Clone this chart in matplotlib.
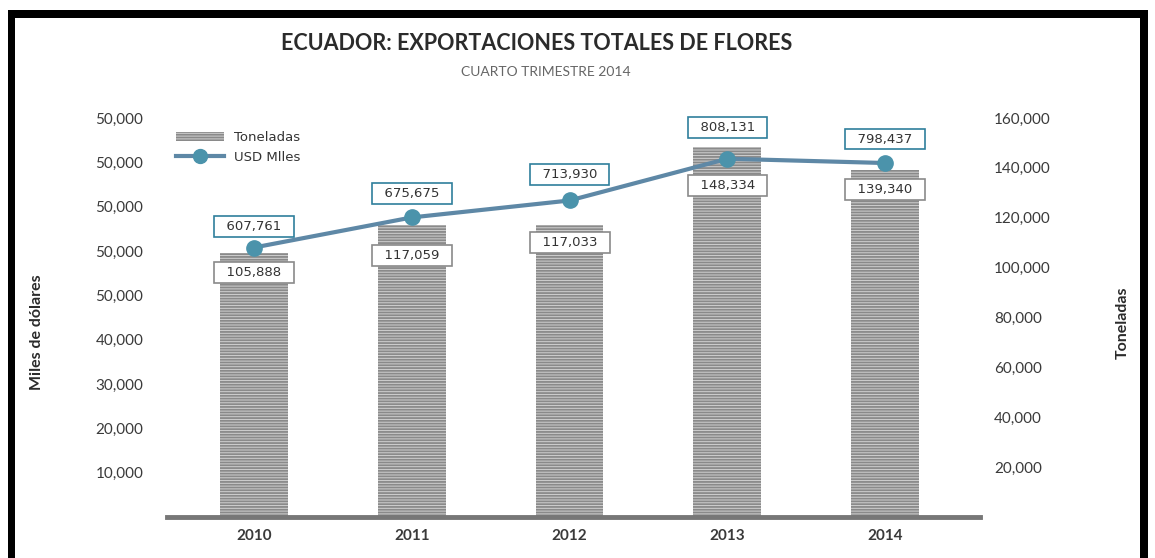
import matplotlib.pyplot as plt
from matplotlib.patches import Rectangle
from matplotlib.lines import Line2D
import numpy as np

# Data
years = ['2010', '2011', '2012', '2013', '2014']
toneladas = [105888, 117059, 117033, 148334, 139340]
usd_miles = [607761, 675675, 713930, 808131, 798437]

# left axis labels as printed in the original (repeated 50,000)
left_ticks = [100000, 200000, 300000, 400000, 500000, 600000, 700000, 800000, 900000]
left_labels = ['10,000', '20,000', '30,000', '40,000', '50,000',
               '50,000', '50,000', '50,000', '50,000']
right_ticks = [20000, 40000, 60000, 80000, 100000, 120000, 140000, 160000]
right_labels = ['20,000', '40,000', '60,000', '80,000', '100,000',
                '120,000', '140,000', '160,000']

# label box offsets in pixels (as placed in the original)
usd_offsets = [21, 24, 26, 31, 24]
ton_offsets = [-20, -30, -17, -38, -20]

W, H = 1155, 558
plt.rcParams['hatch.linewidth'] = 1.3
fig = plt.figure(figsize=(W / 100, H / 100), dpi=100)
fig.patch.set_facecolor('white')

tick_font = ['Lato', 'DejaVu Sans']
txt_col = '#3a3a3a'
bar_face = '#d0d0d0'
bar_hatch = '#8a8a8a'

# Axes for bars (right scale)
ax = fig.add_axes([167 / W, 1 - 517 / H, (980 - 167) / W, (517 - 118) / H])
x = np.arange(len(years))
ax.bar(x, toneladas, width=0.43, facecolor=bar_face, edgecolor=bar_hatch,
       linewidth=0, hatch='------')
ax.set_xlim(-0.55, 4.6)
ax.set_ylim(0, 160000)
ax.set_xticks(x)
ax.set_xticklabels(years, fontweight='bold')
for s in ['top', 'left', 'right']:
    ax.spines[s].set_visible(False)
ax.spines['bottom'].set_color('#777777')
ax.spines['bottom'].set_linewidth(3.5)
ax.tick_params(axis='x', length=0, pad=9, labelsize=11, labelcolor=txt_col)

# Axes for line (left scale)
axl = ax.twinx()
ax.yaxis.tick_right()
ax.set_yticks(right_ticks)
ax.set_yticklabels(right_labels)
ax.tick_params(axis='y', length=0, pad=10, labelsize=11, labelcolor=txt_col)
for lab in ax.get_yticklabels() + ax.get_xticklabels():
    lab.set_family(tick_font)

axl.yaxis.tick_left()
axl.set_ylim(0, 900000)
axl.set_yticks(left_ticks)
axl.set_yticklabels(left_labels)
axl.tick_params(axis='y', length=0, pad=17, labelsize=11, labelcolor=txt_col)
for lab in axl.get_yticklabels():
    lab.set_family(tick_font)
for s in axl.spines.values():
    s.set_visible(False)
line_col = '#5e88a6'
axl.plot(x, usd_miles, color=line_col, linewidth=3, marker='o', markersize=11,
         markerfacecolor='#4b93ab', markeredgecolor='#4b93ab', zorder=5)

# Value boxes
for xi, v, off in zip(x, usd_miles, usd_offsets):
    axl.annotate('  {:,}  '.format(v), (xi, v), xytext=(0, off),
                 textcoords='offset pixels', ha='center', va='center', fontsize=9.5,
                 color='#333333', family='DejaVu Sans',
                 bbox=dict(boxstyle='square,pad=0.3', fc='white', ec='#2f7f9c', lw=1.2),
                 zorder=6)
for xi, v, off in zip(x, toneladas, ton_offsets):
    axl.annotate('  {:,}  '.format(v), (xi, v / 160000 * 900000), xytext=(0, off),
                 textcoords='offset pixels', ha='center', va='center', fontsize=9.5,
                 color='#333333', family='DejaVu Sans',
                 bbox=dict(boxstyle='square,pad=0.3', fc='white', ec='#8a8a8a', lw=1.2),
                 zorder=4)

# Legend
h_bar = Rectangle((0, 0), 1, 1, facecolor=bar_face, edgecolor=bar_hatch,
                  linewidth=0, hatch='------')
h_line = Line2D([], [], color=line_col, linewidth=3, marker='o', markersize=10,
                markerfacecolor='#4b93ab', markeredgecolor='#4b93ab')
leg = axl.legend([h_bar, h_line], ['Toneladas', 'USD Mlles'], loc='upper left',
                 bbox_to_anchor=(0.0, 0.99), frameon=False, handlelength=3.6,
                 handletextpad=0.8, labelspacing=0.5, borderaxespad=0.3,
                 prop={'family': 'DejaVu Sans', 'size': 9.5})
for t in leg.get_texts():
    t.set_color('#333333')

# Titles and axis labels
fig.text(537 / W, 1 - 43 / H, 'ECUADOR: EXPORTACIONES TOTALES DE FLORES',
         ha='center', va='center', fontsize=15.5, fontweight='bold',
         family=tick_font, color='#2b2b2b')
fig.text(546 / W, 1 - 72 / H, 'CUARTO TRIMESTRE 2014', ha='center', va='center',
         fontsize=10, family=['Lato', 'DejaVu Sans'], color='#666666')
fig.text(37 / W, 1 - 332 / H, 'Miles de dólares', rotation=90, ha='center', va='center',
         fontsize=11.5, fontweight='bold', family=tick_font, color='#2b2b2b')
fig.text(1123 / W, 1 - 323 / H, 'Toneladas', rotation=90, ha='center', va='center',
         fontsize=11.5, fontweight='bold', family=tick_font, color='#2b2b2b')

# Black frame
fig.add_artist(Rectangle((8 / W, 0), 7 / W, 1 - 10 / H, transform=fig.transFigure,
                         facecolor='black', edgecolor='none'))
fig.add_artist(Rectangle((1140 / W, 0), 8 / W, 1 - 10 / H, transform=fig.transFigure,
                         facecolor='black', edgecolor='none'))
fig.add_artist(Rectangle((8 / W, 1 - 18 / H), 1140 / W, 8 / H, transform=fig.transFigure,
                         facecolor='black', edgecolor='none'))

fig.savefig('out.png', dpi=100)
